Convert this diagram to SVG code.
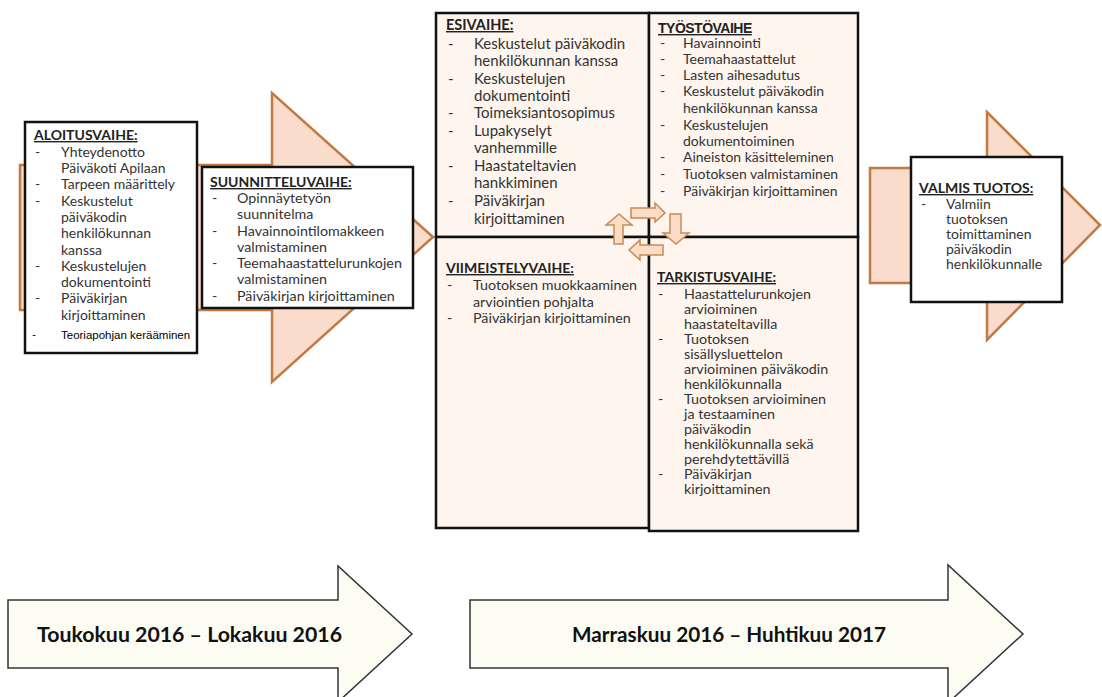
<svg xmlns="http://www.w3.org/2000/svg" width="1102" height="697" viewBox="0 0 1102 697">
<style>
.bg{fill:#ffffff}
.bigarrow{fill:#f9dccb;stroke:#c27a45;stroke-width:2.5;stroke-linejoin:miter}
.box{fill:#ffffff;stroke:#111;stroke-width:2.5}
.quad{fill:#fdf5ee;stroke:#111;stroke-width:2.5}
.small{fill:#fbdcc4;stroke:#c98a5a;stroke-width:1.5}
.time{fill:#fdfcf3;stroke:#333;stroke-width:1.5}
text{font-family:Lato,"Open Sans","Liberation Sans",sans-serif;fill:#333}
.t{font-weight:bold;text-decoration:underline;fill:#222}
.ta{font-family:"Liberation Sans",Arial,sans-serif;font-weight:bold;text-decoration:underline;fill:#222}
.tl{font-weight:bold;fill:#111;font-size:21px}
</style>
<rect class="bg" x="0" y="0" width="1102" height="697"/>

<g id="arrow-left">
<polygon class="bigarrow" points="20,165 272,165 272,93 433,237 272,382 272,310 20,310"/>
</g>
<g id="arrow-right">
<polygon class="bigarrow" points="870,168 987,168 987,112 1100,225 987,340 987,283 870,283"/>
</g>

<g id="aloitusvaihe" font-size="14">
<rect class="box" x="25" y="122" width="172" height="231"/>
<text class="t" x="34" y="140" font-size="14">ALOITUSVAIHE:</text>
<text x="35" y="157">-</text><text x="61" y="157">Yhteydenotto</text>
<text x="61" y="173">Päiväkoti Apilaan</text>
<text x="35" y="189">-</text><text x="61" y="189">Tarpeen määrittely</text>
<text x="35" y="206">-</text><text x="61" y="206">Keskustelut</text>
<text x="61" y="222">päiväkodin</text>
<text x="61" y="238">henkilökunnan</text>
<text x="61" y="255">kanssa</text>
<text x="35" y="271">-</text><text x="61" y="271">Keskustelujen</text>
<text x="61" y="287">dokumentointi</text>
<text x="35" y="303">-</text><text x="61" y="303">Päiväkirjan</text>
<text x="61" y="320">kirjoittaminen</text>
<text x="32" y="339" font-size="11" style="fill:#000">-</text><text x="61" y="339" font-size="11.5" style="fill:#000;font-family:'Liberation Sans',Arial,sans-serif">Teoriapohjan kerääminen</text>
</g>

<g id="suunnitteluvaihe" font-size="14.3">
<rect class="box" x="202" y="167" width="211" height="141"/>
<text class="t" x="210" y="187" font-size="14">SUUNNITTELUVAIHE:</text>
<text x="212" y="203">-</text><text x="237" y="203">Opinnäytetyön</text>
<text x="237" y="219">suunnitelma</text>
<text x="212" y="236">-</text><text x="237" y="236">Havainnointilomakkeen</text>
<text x="237" y="252">valmistaminen</text>
<text x="212" y="268">-</text><text x="237" y="268">Teemahaastattelurunkojen</text>
<text x="237" y="284">valmistaminen</text>
<text x="212" y="301">-</text><text x="237" y="301">Päiväkirjan kirjoittaminen</text>
</g>

<g id="esivaihe" font-size="15">
<rect class="quad" x="436" y="13" width="213" height="224"/>
<text class="t" x="446" y="30" font-size="14.5">ESIVAIHE:</text>
<text x="448" y="49">-</text><text x="474" y="49">Keskustelut päiväkodin</text>
<text x="474" y="66">henkilökunnan kanssa</text>
<text x="448" y="84">-</text><text x="474" y="84">Keskustelujen</text>
<text x="474" y="101">dokumentointi</text>
<text x="448" y="118">-</text><text x="474" y="118">Toimeksiantosopimus</text>
<text x="448" y="136">-</text><text x="474" y="136">Lupakyselyt</text>
<text x="474" y="153">vanhemmille</text>
<text x="448" y="171">-</text><text x="474" y="171">Haastateltavien</text>
<text x="474" y="188">hankkiminen</text>
<text x="448" y="206">-</text><text x="474" y="206">Päiväkirjan</text>
<text x="474" y="224">kirjoittaminen</text>
</g>

<g id="tyostovaihe" font-size="14">
<rect class="quad" x="649" y="13" width="209" height="224"/>
<text class="ta" x="658" y="33" font-size="14" letter-spacing="-0.5">TYÖSTÖVAIHE</text>
<text x="660" y="48">-</text><text x="683" y="48">Havainnointi</text>
<text x="660" y="64">-</text><text x="683" y="64">Teemahaastattelut</text>
<text x="660" y="80">-</text><text x="683" y="80">Lasten aihesadutus</text>
<text x="660" y="96">-</text><text x="683" y="96">Keskustelut päiväkodin</text>
<text x="683" y="113">henkilökunnan kanssa</text>
<text x="660" y="130">-</text><text x="683" y="130">Keskustelujen</text>
<text x="683" y="146">dokumentoiminen</text>
<text x="660" y="162">-</text><text x="683" y="162">Aineiston käsitteleminen</text>
<text x="660" y="179">-</text><text x="683" y="179">Tuotoksen valmistaminen</text>
<text x="660" y="196">-</text><text x="683" y="196">Päiväkirjan kirjoittaminen</text>
</g>

<g id="viimeistelyvaihe" font-size="14.3">
<rect class="quad" x="436" y="237" width="213" height="291"/>
<text class="t" x="446" y="273" font-size="14">VIIMEISTELYVAIHE:</text>
<text x="447" y="290">-</text><text x="473" y="290">Tuotoksen muokkaaminen</text>
<text x="473" y="307">arviointien pohjalta</text>
<text x="447" y="323">-</text><text x="473" y="323">Päiväkirjan kirjoittaminen</text>
</g>

<g id="tarkistusvaihe" font-size="14.3">
<rect class="quad" x="649" y="237" width="209" height="294"/>
<text class="t" x="657" y="282" font-size="14">TARKISTUSVAIHE:</text>
<text x="658" y="299">-</text><text x="684" y="299">Haastattelurunkojen</text>
<text x="684" y="314">arvioiminen</text>
<text x="684" y="329">haastateltavilla</text>
<text x="658" y="344">-</text><text x="684" y="344">Tuotoksen</text>
<text x="684" y="359">sisällysluettelon</text>
<text x="684" y="374">arvioiminen päiväkodin</text>
<text x="684" y="389">henkilökunnalla</text>
<text x="658" y="404">-</text><text x="684" y="404">Tuotoksen arvioiminen</text>
<text x="684" y="419">ja testaaminen</text>
<text x="684" y="434">päiväkodin</text>
<text x="684" y="449">henkilökunnalla sekä</text>
<text x="684" y="464">perehdytettävillä</text>
<text x="658" y="479">-</text><text x="684" y="479">Päiväkirjan</text>
<text x="684" y="494">kirjoittaminen</text>
</g>

<g id="valmis-tuotos" font-size="14">
<rect class="box" x="911" y="157" width="151" height="145"/>
<text class="t" x="919" y="193" font-size="14">VALMIS TUOTOS:</text>
<text x="921" y="209">-</text><text x="946" y="209">Valmiin</text>
<text x="946" y="224">tuotoksen</text>
<text x="946" y="239">toimittaminen</text>
<text x="946" y="254">päiväkodin</text>
<text x="946" y="269">henkilökunnalle</text>
</g>

<g id="connectors">
<polygon class="small" points="631,208 655,208 655,203 665,213 655,222 655,218 631,218"/>
<polygon class="small" points="670,214 681,214 681,233 689,233 676,244 663,233 670,233"/>
<polygon class="small" points="663,245 640,245 640,240 629,250 640,260 640,255 663,255"/>
<polygon class="small" points="614,244 623,244 623,225 632,225 619,214 606,225 614,225"/>
</g>

<g id="timeline-1">
<polygon class="time" points="8,600 338,600 338,566 412,634 338,702 338,668 8,668"/>
<text class="tl" x="37" y="642" textLength="305" lengthAdjust="spacingAndGlyphs">Toukokuu 2016  –  Lokakuu 2016</text>
</g>
<g id="timeline-2">
<polygon class="time" points="470,600 948,600 948,565 1023,634 948,703 948,668 470,668"/>
<text class="tl" x="572" y="642" textLength="314" lengthAdjust="spacingAndGlyphs">Marraskuu 2016 – Huhtikuu 2017</text>
</g>
</svg>
